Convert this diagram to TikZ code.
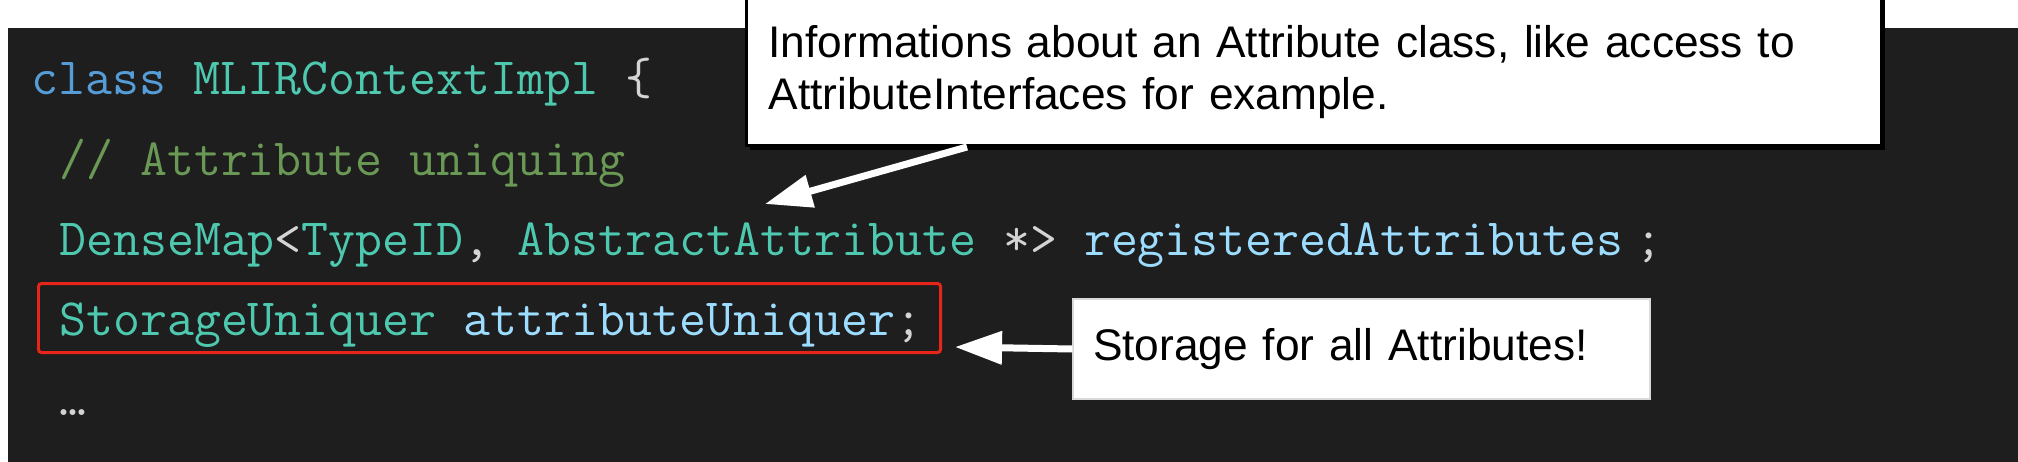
\documentclass[tikz,border=0pt]{standalone}
\usepackage{fontspec}
\setmainfont{Liberation Sans}
\usetikzlibrary{arrows.meta,shadows}
\definecolor{codebg}{HTML}{1E1E1E}
\definecolor{kwblue}{HTML}{569CD6}
\definecolor{typeteal}{HTML}{4EC9B0}
\definecolor{punct}{HTML}{D4D4D4}
\definecolor{cmtgreen}{HTML}{6A9955}
\definecolor{varblue}{HTML}{9CDCFE}
\definecolor{hlred}{HTML}{E8251A}

\begin{document}
\begin{tikzpicture}[x=1cm, y=1cm, code line/.style={anchor=base west,inner sep=0pt,font=\ttfamily\fontsize{14.9}{16}\selectfont},
note box/.style={fill=white,text=black,align=left,font=\fontsize{12.6}{14.8}\selectfont},
call arrow/.style={draw=white,line width=0.07cm,-{Triangle[length=0.47cm,width=0.32cm]}},
hl box/.style={draw=hlred,line width=0.03cm,rounded corners=0.03cm,minimum width=9.02cm,minimum height=0.69cm,inner sep=0pt}]
\useasboundingbox (0,0) rectangle (20.18,-4.62);
\fill[codebg] (0.08,-0.28) rectangle (20.18,-4.62);
\begin{scope}[every node/.style={code line}]
\node (cls) at (0.31,-0.94) {\textcolor{kwblue}{class} \textcolor{typeteal}{MLIRContextImpl} \textcolor{punct}{\{}};
\node (cmt) at (0.585,-1.75) {\textcolor{cmtgreen}{// Attribute uniquing}};
\node (map) at (0.585,-2.55) {\textcolor{typeteal}{DenseMap}\textcolor{punct}{<}\textcolor{typeteal}{TypeID}\textcolor{punct}{,} \textcolor{typeteal}{AbstractAttribute} \textcolor{punct}{*>} \textcolor{varblue}{registeredAttributes}\hspace{0.12cm}\textcolor{punct}{;}};
\node (uniq) at (0.585,-3.35) {\textcolor{typeteal}{StorageUniquer} \textcolor{varblue}{attributeUniquer}\textcolor{punct}{;}};
\node (dots) at (0.585,-4.15) {\textcolor{punct}{…}};
\end{scope}
\node[hl box,anchor=south west] (hl) at (0.37,-3.54) {};
\node[note box,draw=black,line width=0.03cm,drop shadow={opacity=1,fill=black,shadow xshift=0.03cm,shadow yshift=-0.04cm},anchor=south west,text width=10.91cm,inner xsep=0.22cm,inner ysep=0.27cm] (info) at (7.45,-1.47) {\rule{0pt}{1cm}Informations about an Attribute class, like access to\\AttributeInterfaces for example.};
\node[note box,draw=black!15,minimum width=5.77cm,minimum height=1.0cm,text width=5.37cm,inner xsep=0.2cm] (store) at (13.615,-3.49) {Storage for all Attributes!};
\coordinate (infotail) at (9.67,-1.47);
\coordinate (infotip) at (7.65,-2.04);
\coordinate (storetip) at (9.55,-3.47);
\draw[call arrow] (infotail) -- (infotip);
\draw[call arrow] (store.west) -- (storetip);
\end{tikzpicture}
\end{document}
